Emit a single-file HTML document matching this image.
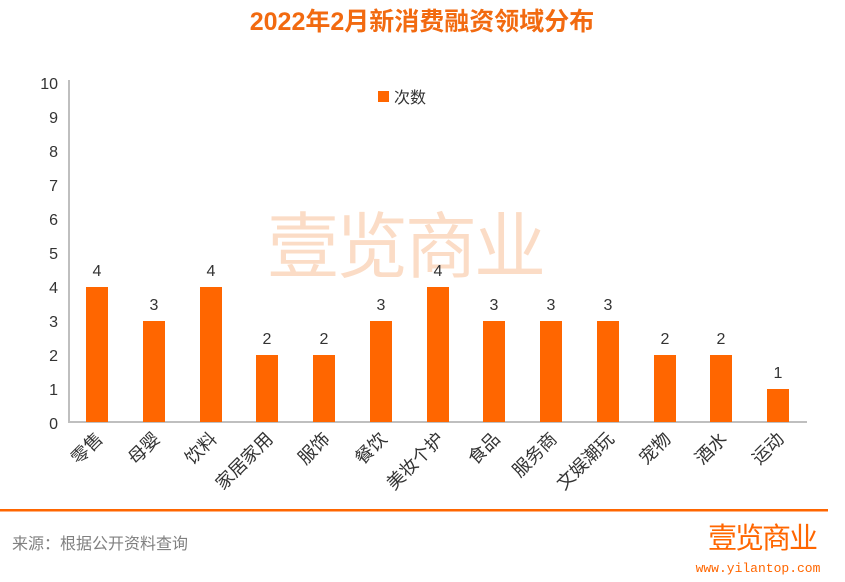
<!DOCTYPE html>
<html><head><meta charset="utf-8"><style>
body{margin:0;background:#fff;}
svg{display:block;font-family:"Liberation Sans","Noto Sans CJK SC",sans-serif;}
</style></head><body>
<svg width="845" height="582" xmlns="http://www.w3.org/2000/svg">
<text x="422" y="30" text-anchor="middle" font-size="25" font-weight="bold" fill="#f26a10">2022年2月新消费融资领域分布</text>
<text x="405" y="272" text-anchor="middle" font-size="72" fill="#fbdcc6" letter-spacing="-3">壹览商业</text>
<g font-size="16" fill="#333" text-anchor="end">
<text x="58" y="429">0</text><text x="58" y="395">1</text><text x="58" y="361">2</text><text x="58" y="327">3</text><text x="58" y="293">4</text><text x="58" y="259">5</text><text x="58" y="225">6</text><text x="58" y="191">7</text><text x="58" y="157">8</text><text x="58" y="123">9</text><text x="58" y="89">10</text>
</g>
<polyline points="69,80 69,422 807,422" fill="none" stroke="#bfbfbf" stroke-width="2"/>
<rect x="378" y="91" width="11" height="11" fill="#ff6600"/>
<text x="394" y="103" font-size="16" fill="#333">次数</text>
<g fill="#ff6600">
<rect x="86" y="287" width="22" height="135"/>
<rect x="143" y="321" width="22" height="101"/>
<rect x="200" y="287" width="22" height="135"/>
<rect x="256" y="355" width="22" height="67"/>
<rect x="313" y="355" width="22" height="67"/>
<rect x="370" y="321" width="22" height="101"/>
<rect x="427" y="287" width="22" height="135"/>
<rect x="483" y="321" width="22" height="101"/>
<rect x="540" y="321" width="22" height="101"/>
<rect x="597" y="321" width="22" height="101"/>
<rect x="654" y="355" width="22" height="67"/>
<rect x="710" y="355" width="22" height="67"/>
<rect x="767" y="389" width="22" height="33"/>
</g>
<g font-size="16" fill="#333" text-anchor="middle">
<text x="97" y="276">4</text><text x="154" y="310">3</text><text x="211" y="276">4</text><text x="267" y="344">2</text><text x="324" y="344">2</text><text x="381" y="310">3</text><text x="438" y="276">4</text><text x="494" y="310">3</text><text x="551" y="310">3</text><text x="608" y="310">3</text><text x="665" y="344">2</text><text x="721" y="344">2</text><text x="778" y="378">1</text>
</g>
<g font-size="18" fill="#333" text-anchor="end">
<text transform="translate(104,440) rotate(-45)">零售</text>
<text transform="translate(161,440) rotate(-45)">母婴</text>
<text transform="translate(218,440) rotate(-45)">饮料</text>
<text transform="translate(274,440) rotate(-45)">家居家用</text>
<text transform="translate(331,440) rotate(-45)">服饰</text>
<text transform="translate(388,440) rotate(-45)">餐饮</text>
<text transform="translate(445,440) rotate(-45)">美妆个护</text>
<text transform="translate(501,440) rotate(-45)">食品</text>
<text transform="translate(558,440) rotate(-45)">服务商</text>
<text transform="translate(615,440) rotate(-45)">文娱潮玩</text>
<text transform="translate(672,440) rotate(-45)">宠物</text>
<text transform="translate(728,440) rotate(-45)">酒水</text>
<text transform="translate(785,440) rotate(-45)">运动</text>
</g>
<rect x="0" y="509" width="828" height="2.5" fill="#ff6600"/>
<text x="12" y="549" font-size="16" fill="#808080">来源：根据公开资料查询</text>
<text x="762" y="548" text-anchor="middle" font-size="29" fill="#ff6600" letter-spacing="-2">壹览商业</text>
<text x="758" y="572" text-anchor="middle" font-size="13" font-family="Liberation Mono,monospace" fill="#ff6600">www.yilantop.com</text>
</svg>
</body></html>
